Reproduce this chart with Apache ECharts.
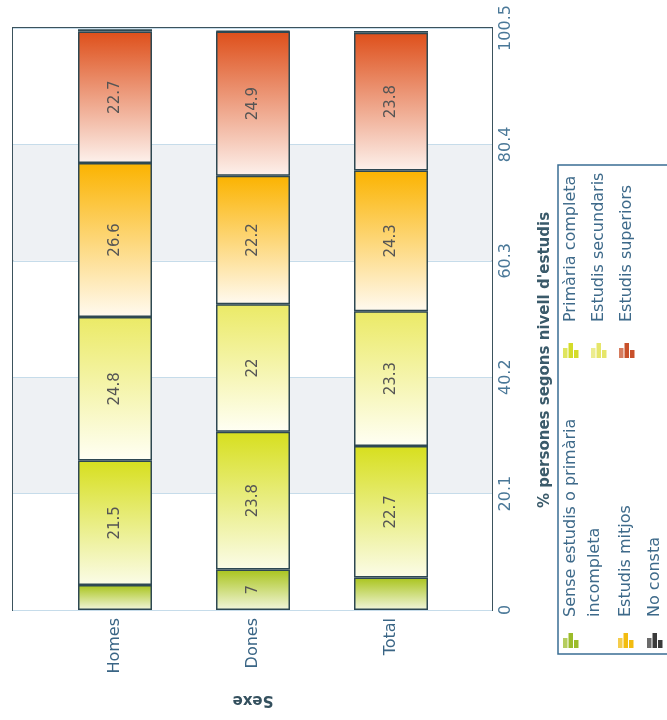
<!DOCTYPE html>
<html>
<head>
<meta charset="utf-8">
<script src="https://cdn.jsdelivr.net/npm/echarts@6/dist/echarts.min.js"></script>
<style>
html,body{margin:0;padding:0;background:#fff;}
#chart{width:667px;height:720px;}
</style>
</head>
<body>
<div id="chart"></div>
<script>
// ---- data ----
const categories = ['Homes', 'Dones', 'Total'];
const seriesNames = ['Sense estudis o primària incompleta', 'Primària completa', 'Estudis secundaris', 'Estudis mitjos', 'Estudis superiors', 'No consta'];
const senseEstudis = [4.3, 7, 5.6];
const primariaCompleta = [21.5, 23.8, 22.7];
const estudisSecundaris = [24.8, 22, 23.3];
const estudisMitjos = [26.6, 22.2, 24.3];
const estudisSuperiors = [22.7, 24.9, 23.8];
const noConsta = [0.4, 0.1, 0.3];
const axisMax = 100.5;
const axisInterval = 20.1;
const xAxisName = 'Sexe';
const yAxisName = "% persones segons nivell d'estudis";

// ---- styles ----
const gradTop = ['#a9c41c', '#d7df1e', '#ebea66', '#fbb300', '#de4f1a', '#333333'];
const gradBottom = ['#f2f6dc', '#fbfce8', '#fffff4', '#fffaf0', '#fdf1ec', '#555555'];
const iconColors = ['#9cbc2a', '#d4dc2a', '#e6e66a', '#f2bc10', '#c8502a', '#3a3a3a'];
const allSeries = [senseEstudis, primariaCompleta, estudisSecundaris, estudisMitjos, estudisSuperiors, noConsta];

const chart = echarts.init(document.getElementById('chart'), null, {renderer: 'canvas'});

const series = allSeries.map((vals, i) => ({
  name: seriesNames[i],
  type: 'bar',
  stack: 'total',
  xAxisIndex: 1,
  yAxisIndex: 1,
  barWidth: 74,
  itemStyle: {
    color: new echarts.graphic.LinearGradient(0, 0, 0, 1, [
      {offset: 0, color: gradTop[i]},
      {offset: 1, color: gradBottom[i]}
    ]),
    borderColor: '#2e4852',
    borderWidth: 1.5
  },
  label: {
    show: true,
    position: 'inside',
    rotate: 90,
    fontFamily: 'DejaVu Sans',
    fontSize: 15,
    color: '#555555',
    formatter: p => (i < 5 && p.value >= 6) ? String(p.value) : ''
  },
  data: vals
}));

// legend drawn as rotated graphic text
const legendLayout = [
  {x: 571, y: 617, iy: 648},
  {x: 571, y: 322, iy: 358},
  {x: 599, y: 322, iy: 358},
  {x: 626, y: 617, iy: 648},
  {x: 627, y: 322, iy: 358},
  {x: 655, y: 617, iy: 648}
];
const legendTextColor = '#3e6a8a';
const legendFont = '16px "DejaVu Sans"';
const graphics = [{
  type: 'rect',
  shape: {x: 558, y: 165, width: 130, height: 489},
  style: {fill: '#ffffff', stroke: '#3a6e94', lineWidth: 1.5},
  z: 1
}];
function legendText(txt, x, y) {
  return {
    type: 'text', x: x, y: y, rotation: Math.PI / 2, z: 2,
    style: {text: txt, font: legendFont, fill: legendTextColor, textAlign: 'left', textVerticalAlign: 'middle', verticalAlign: 'middle'}
  };
}
seriesNames.forEach((nm, i) => {
  const L = legendLayout[i];
  if (i === 0) {
    graphics.push(legendText('Sense estudis o primària', L.x, L.y));
    graphics.push(legendText('incompleta', L.x + 24, L.y));
  } else {
    graphics.push(legendText(nm, L.x, L.y));
  }
  const hs = [10, 15, 8];
  hs.forEach((h, k) => {
    graphics.push({
      type: 'rect', z: 2,
      shape: {x: L.x - 8 + k * 5.5, y: L.iy - h, width: 4.5, height: h},
      style: {fill: iconColors[i], opacity: k === 0 ? 0.75 : 1}
    });
  });
});

const option = {
  animation: false,
  backgroundColor: '#ffffff',
  grid: [
    {left: 13, right: 175, top: 28, bottom: 110, show: true, borderColor: '#3b525c', borderWidth: 2, backgroundColor: 'transparent'},
    {left: 46, right: 207, top: 28, bottom: 110}
  ],
  xAxis: [
    {gridIndex: 0, type: 'value', show: false, min: 0, max: 1},
    {
      gridIndex: 1, type: 'category', data: categories,
      axisLine: {show: false}, axisTick: {show: false},
      axisLabel: {rotate: 90, fontFamily: 'DejaVu Sans', fontSize: 16, color: '#3a6585', margin: 8},
      name: xAxisName, nameLocation: 'middle', nameRotate: 180, nameGap: 82,
      nameTextStyle: {fontFamily: 'DejaVu Sans', fontSize: 15, fontWeight: 'bold', color: '#34505e'}
    }
  ],
  yAxis: [
    {
      gridIndex: 0, type: 'value', min: 0, max: axisMax, interval: axisInterval, position: 'right',
      axisLine: {show: false}, axisTick: {show: false},
      axisLabel: {rotate: 90, fontFamily: 'DejaVu Sans', fontSize: 16, color: '#4a7898', margin: 6,
        formatter: v => String(+(+v).toFixed(1))},
      splitLine: {show: true, lineStyle: {color: '#c6dcea', width: 1}},
      splitArea: {show: true, areaStyle: {color: ['#ffffff', '#eef1f4']}},
      name: yAxisName, nameLocation: 'middle', nameRotate: 90, nameGap: 46,
      nameTextStyle: {fontFamily: 'DejaVu Sans', fontSize: 15, fontWeight: 'bold', color: '#3a5a6a', padding: [0, 82, 0, 0]}
    },
    {gridIndex: 1, type: 'value', min: 0, max: axisMax, show: false}
  ],
  graphic: graphics,
  series: series
};
chart.setOption(option);
</script>
</body>
</html>
